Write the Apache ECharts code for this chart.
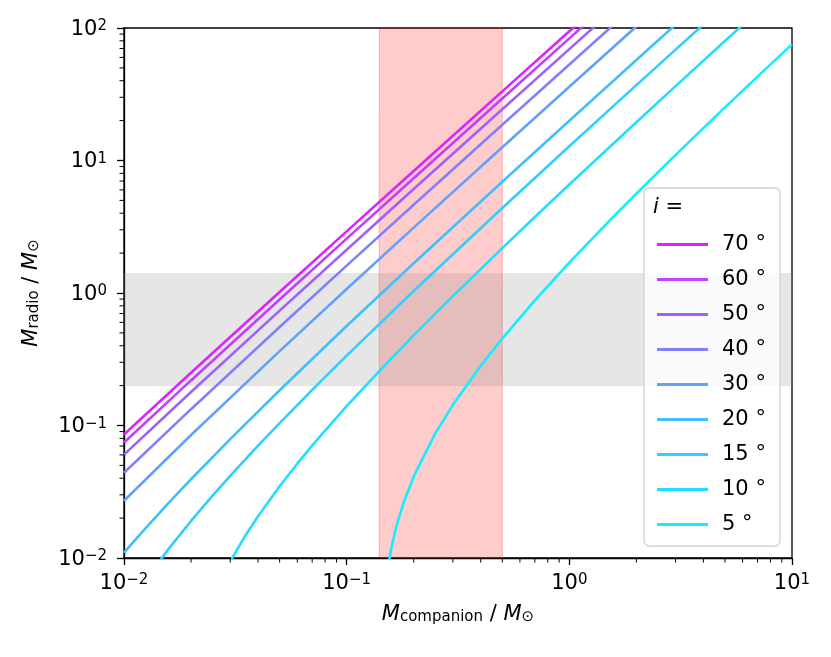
<!DOCTYPE html>
<html>
<head>
<meta charset="utf-8">
<script src="https://cdn.jsdelivr.net/npm/echarts@6/dist/echarts.min.js"></script>
<style>
html,body{margin:0;padding:0;background:#fff;}
#chart{width:831px;height:657px;}
</style>
</head>
<body>
<div id="chart"></div>
<script>
// ---- data ----
const inclinations = ['70°', '60°', '50°', '40°', '30°', '20°', '15°', '10°', '5°'];
const lineColors = ['#df20ff', '#bf40ff', '#9f60ff', '#8080ff', '#60a0ff', '#40bfff', '#30cfff', '#20dfff', '#10efff'];

const curve70 = [[0.01,0.0855],[0.02,0.2501],[0.05,1.0176],[0.1,2.9197],[0.2,8.341],[0.5,33.26],[1,94.49],[1.5,173.9]];
const curve60 = [[0.01,0.07448],[0.02,0.2189],[0.05,0.8945],[0.1,2.5715],[0.2,7.356],[0.5,29.37],[1,83.48],[1.5,153.7]];
const curve50 = [[0.01,0.06028],[0.02,0.1788],[0.05,0.7357],[0.1,2.1225],[0.2,6.086],[0.5,24.35],[1,69.28],[1.5,127.6]];
const curve40 = [[0.01,0.04402],[0.02,0.1328],[0.05,0.5539],[0.1,1.6083],[0.2,4.632],[0.5,18.60],[1,53.02],[2,150.8]];
const curve30 = [[0.01,0.02706],[0.02,0.08482],[0.05,0.3643],[0.1,1.0719],[0.2,3.1148],[0.5,12.60],[1,36.06],[2,102.8]];
const curve20 = [[0.01,0.010968],[0.0126,0.017057],[0.0158,0.025843],[0.02,0.03931],[0.03,0.07895],[0.05,0.1844],[0.1,0.5631],[0.2,1.6754],[0.5,6.913],[1,19.968],[2,57.31],[3,105.95]];
const curve15 = [[0.01,0.003803],[0.0126,0.006923],[0.0158,0.011613],[0.02,0.01904],[0.025,0.02956],[0.03,0.04172],[0.04,0.07042],[0.05,0.10432],[0.07,0.18563],[0.1,0.3365],[0.2,1.0346],[0.5,4.380],[1,12.803],[2,37.04],[5,149.3]];
const curve10 = [[0.025,0.004986],[0.03,0.009418],[0.035,0.014672],[0.04,0.020688],[0.05,0.034811],[0.06,0.05149],[0.07,0.07049],[0.08,0.09165],[0.1,0.13989],[0.15,0.29071],[0.2,0.47852],[0.3,0.9465],[0.5,2.182],[0.7,3.743],[1,6.586],[2,19.457],[3,36.42],[5,79.81],[7,133.5]];
const curve5 = [[0.15,0.0067],[0.155,0.0096],[0.16,0.01263],[0.165,0.01578],[0.17,0.01906],[0.18,0.02599],[0.2,0.04126],[0.25,0.08716],[0.3,0.14321],[0.4,0.28237],[0.5,0.45364],[0.7,0.8797],[1,1.6973],[1.5,3.4553],[2,5.629],[3,11.016],[5,25.157],[7,42.955],[10,75.30]];
const curves = [curve70, curve60, curve50, curve40, curve30, curve20, curve15, curve10, curve5];

const companionBand = [0.14, 0.5];
const radioBand = [0.2, 1.4];

const xRange = [0.01, 10];
const yRange = [0.01, 100];
const xMinorTicks = [0.02,0.03,0.04,0.05,0.06,0.07,0.08,0.09,0.2,0.3,0.4,0.5,0.6,0.7,0.8,0.9,2,3,4,5,6,7,8,9];
const yMinorTicks = [0.02,0.03,0.04,0.05,0.06,0.07,0.08,0.09,0.2,0.3,0.4,0.5,0.6,0.7,0.8,0.9,2,3,4,5,6,7,8,9,20,30,40,50,60,70,80,90];

const xLabel = ['M', 'companion'];
const yLabel = ['M', 'radio'];
const legendTitle = 'i';

// ---- chart ----
const FONT = 'DejaVu Sans';
const chart = echarts.init(document.getElementById('chart'), null, {renderer: 'canvas'});

function powLabel(v) {
  const e = Math.round(Math.log10(v));
  return '{b|10}{s|' + (e < 0 ? '\u2212' + (-e) : String(e)) + '}';
}
const tickRich = {
  b: {fontSize: 21, fontFamily: FONT, color: '#000', lineHeight: 26, verticalAlign: 'top'},
  s: {fontSize: 15, fontFamily: FONT, color: '#000', lineHeight: 14, verticalAlign: 'top'}
};
const nameRich = {
  it: {fontSize: 21, fontFamily: FONT, fontStyle: 'italic', color: '#000', lineHeight: 26, verticalAlign: 'bottom'},
  n: {fontSize: 21, fontFamily: FONT, color: '#000', lineHeight: 26, verticalAlign: 'bottom'},
  sub: {fontSize: 15, fontFamily: FONT, color: '#000', lineHeight: 12, verticalAlign: 'bottom'}
};
function axisName(parts) {
  return '{it|' + parts[0] + '}{sub|' + parts[1] + '}{n| / }{it|M}{sub|\u2299}';
}

const lineSeries = inclinations.map((name, k) => ({
  name: name,
  type: 'line',
  data: curves[k],
  symbol: 'none',
  smooth: false,
  clip: true,
  color: lineColors[k],
  lineStyle: {color: lineColors[k], width: 2.6},
  z: 5,
  silent: true
}));

const bandSeries = {
  name: 'bands',
  type: 'line',
  data: [],
  silent: true,
  z: 1,
  markArea: {
    silent: true,
    data: [
      [{xAxis: companionBand[0], itemStyle: {color: 'rgba(255,0,0,0.2)', borderColor: 'rgba(255,0,0,0.25)', borderWidth: 1}}, {xAxis: companionBand[1]}],
      [{yAxis: radioBand[0], itemStyle: {color: 'rgba(128,128,128,0.2)', borderColor: 'rgba(128,128,128,0.15)', borderWidth: 1}}, {yAxis: radioBand[1]}]
    ]
  }
};

const xMinorSeries = {
  name: 'xminor',
  type: 'custom',
  silent: true,
  clip: false,
  z: 10,
  data: xMinorTicks.map(v => [v, yRange[0]]),
  renderItem: function (params, api) {
    const p = api.coord([api.value(0), api.value(1)]);
    return {type: 'line', shape: {x1: p[0], y1: p[1], x2: p[0], y2: p[1] + 4.5}, style: {stroke: '#000', lineWidth: 1}};
  }
};
const yMinorSeries = {
  name: 'yminor',
  type: 'custom',
  silent: true,
  clip: false,
  z: 10,
  data: yMinorTicks.map(v => [xRange[0], v]),
  renderItem: function (params, api) {
    const p = api.coord([api.value(0), api.value(1)]);
    return {type: 'line', shape: {x1: p[0] - 4.5, y1: p[1], x2: p[0], y2: p[1]}, style: {stroke: '#000', lineWidth: 1}};
  }
};

const option = {
  backgroundColor: '#fff',
  animation: false,
  textStyle: {fontFamily: FONT},
  grid: {left: 124, top: 28, right: 39, bottom: 99, show: true, borderColor: '#000', borderWidth: 1.3, backgroundColor: 'transparent', containLabel: false},
  xAxis: {
    type: 'log',
    logBase: 10,
    min: xRange[0],
    max: xRange[1],
    splitNumber: 3,
    name: axisName(xLabel),
    nameLocation: 'middle',
    nameGap: 41,
    nameTextStyle: {rich: nameRich},
    axisLine: {show: true, lineStyle: {color: '#000', width: 1.3}},
    axisTick: {show: true, inside: false, length: 7, lineStyle: {color: '#000', width: 1.3}},
    splitLine: {show: false},
    minorTick: {show: false},
    axisLabel: {margin: 15, formatter: powLabel, rich: tickRich}
  },
  yAxis: {
    type: 'log',
    logBase: 10,
    min: yRange[0],
    max: yRange[1],
    splitNumber: 4,
    name: axisName(yLabel),
    nameLocation: 'middle',
    nameRotate: 90,
    nameGap: 82,
    nameTextStyle: {rich: nameRich},
    axisLine: {show: true, lineStyle: {color: '#000', width: 1.3}},
    axisTick: {show: true, inside: false, length: 7, lineStyle: {color: '#000', width: 1.3}},
    splitLine: {show: false},
    minorTick: {show: false},
    axisLabel: {margin: 17, padding: [8, 0, 0, 0], formatter: powLabel, rich: tickRich}
  },
  legend: {
    show: true,
    orient: 'vertical',
    left: 652,
    top: 229,
    z: 20,
    itemWidth: 51,
    itemHeight: 14,
    itemGap: 14,
    selectedMode: false,
    data: inclinations.map((n, k) => ({name: n, icon: 'path://M0,0L51,0L51,3L0,3Z', itemStyle: {color: lineColors[k]}})),
    formatter: function (name) { return name.replace('°', ' °'); },
    textStyle: {fontSize: 21, fontFamily: FONT, color: '#000', padding: [0, 0, 0, 9]}
  },
  graphic: [
    {
      type: 'rect',
      z: 15,
      silent: true,
      shape: {x: 644, y: 188, width: 136, height: 358, r: 5},
      style: {fill: 'rgba(255,255,255,0.8)', stroke: 'rgba(204,204,204,0.9)', lineWidth: 1.3}
    },
    {
      type: 'text',
      z: 21,
      silent: true,
      x: 653,
      y: 197,
      style: {
        text: '{it|' + legendTitle + '}{n| =}',
        rich: {
          it: {fontSize: 21, fontFamily: FONT, fontStyle: 'italic', fill: '#000'},
          n: {fontSize: 21, fontFamily: FONT, fill: '#000'}
        }
      }
    }
  ],
  series: [bandSeries].concat(lineSeries, [xMinorSeries, yMinorSeries])
};
chart.setOption(option);
</script>
</body>
</html>
